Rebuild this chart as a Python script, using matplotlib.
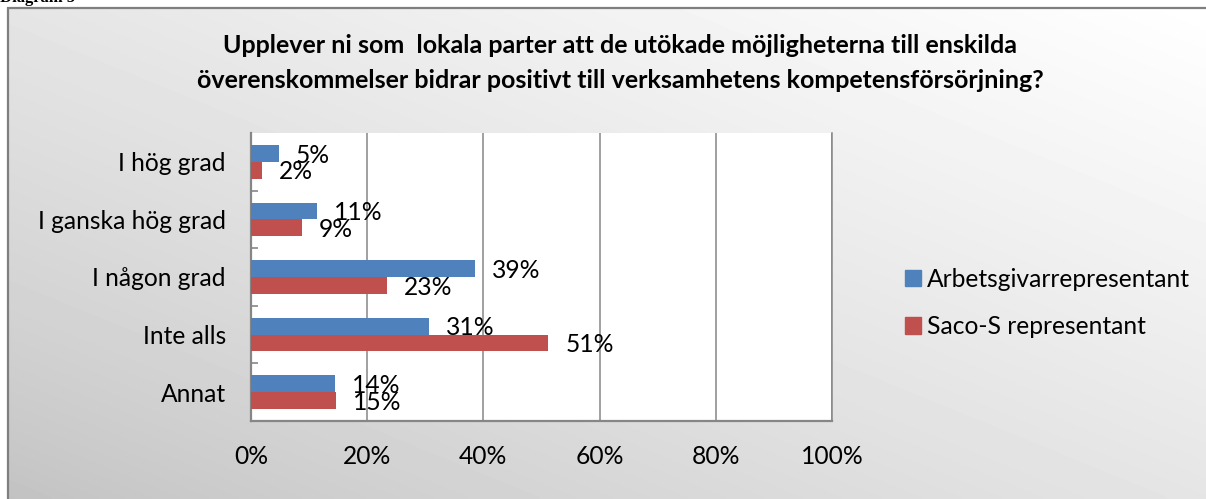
import numpy as np
import matplotlib.pyplot as plt
from matplotlib.patches import Patch, Rectangle

plt.rcParams['font.family'] = ['Lato', 'DejaVu Sans']

kategorier = ["I hög grad", "I ganska hög grad", "I någon grad", "Inte alls", "Annat"]
arbetsgivare = [4.8, 11.4, 38.6, 30.7, 14.5]
saco_s = [1.9, 8.8, 23.4, 51.2, 14.6]
serier = ["Arbetsgivarrepresentant", "Saco-S representant"]
xticks = [0, 20, 40, 60, 80, 100]

blue = "#4F81BD"
red = "#C0504D"
grid = "#868686"
fs = 17.7

W, H = 1206, 499
fig = plt.figure(figsize=(W / 100, H / 100), dpi=100)

# bakgrund med gradient inne i ramen
bg = fig.add_axes([8 / W, 0, 1 - 8 / W, (H - 8) / H])
bg.set_axis_off()
xx, yy = np.meshgrid(np.linspace(0, 1, 300), np.linspace(1, 0, 150))
t = (xx + yy) / 2
bg.imshow(0.76 + 0.24 * t ** 0.8, cmap="gray", vmin=0, vmax=1, aspect="auto",
          extent=[0, 1, 0, 1], interpolation="bicubic")
fig.patches.append(Rectangle((8 / W, -0.1), 1.2, 1.1 - 8 / H, transform=fig.transFigure,
                             fill=False, edgecolor="#7f7f7f", linewidth=1.6))

fig.text(0.0, 1 - 2.5 / H, "Diagram 5", family="Liberation Serif", weight="bold",
         fontsize=12, ha="left", va="baseline")

ax = fig.add_axes([251 / W, (H - 421) / H, (832 - 251) / W, (421 - 133) / H])
ax.set_facecolor("white")

pos = np.arange(len(kategorier))
h = 0.29
b1 = ax.barh(pos - h / 2, arbetsgivare, height=h, color=blue, zorder=3)
b2 = ax.barh(pos + h / 2, saco_s, height=h, color=red, zorder=3)

for bars, vals in ((b1, arbetsgivare), (b2, saco_s)):
    for bar, v in zip(bars, vals):
        ax.annotate(f"{round(v)}%", (v, bar.get_y() + bar.get_height() / 2),
                    xytext=(12.2, -1.2), textcoords="offset points",
                    ha="left", va="center", fontsize=fs, zorder=4)

ax.set_xlim(0, 100)
ax.set_ylim(len(kategorier) - 0.5, -0.5)
ax.set_xticks(xticks)
ax.set_xticklabels([f"{v}%" for v in xticks], fontsize=fs)
ax.set_yticks(pos)
ax.set_yticklabels(kategorier, fontsize=fs)
ax.set_yticks(pos[:-1] + 0.5, minor=True)
ax.tick_params(axis="both", which="major", length=0)
ax.tick_params(axis="y", which="major", pad=18)
ax.tick_params(axis="x", which="major", pad=17.4)
ax.tick_params(axis="y", which="minor", direction="in", length=5, width=1.2, color=grid)
ax.grid(axis="x", color=grid, linewidth=1.1, zorder=1)

ax.spines["top"].set_visible(False)
ax.spines["right"].set_color(grid)
ax.spines["right"].set_linewidth(1.1)
for s in ("left", "bottom"):
    ax.spines[s].set_color(grid)
    ax.spines[s].set_linewidth(1.6)

handles = [Patch(color=blue), Patch(color=red)]
fig.legend(handles, serier, loc="center left", bbox_to_anchor=(905 / W, 1 - 303 / H),
           frameon=False, fontsize=fs, handlelength=0.65, handleheight=0.65,
           handletextpad=0.25, labelspacing=1.0, borderpad=0, borderaxespad=0)

fig.text(620 / W, 1 - 53 / H,
         "Upplever ni som  lokala parter att de utökade möjligheterna till enskilda",
         ha="center", va="baseline", fontsize=18, weight="bold")
fig.text(620 / W, 1 - 88 / H,
         "överenskommelser bidrar positivt till verksamhetens kompetensförsörjning?",
         ha="center", va="baseline", fontsize=18, weight="bold")

fig.savefig("out.png", dpi=100)
